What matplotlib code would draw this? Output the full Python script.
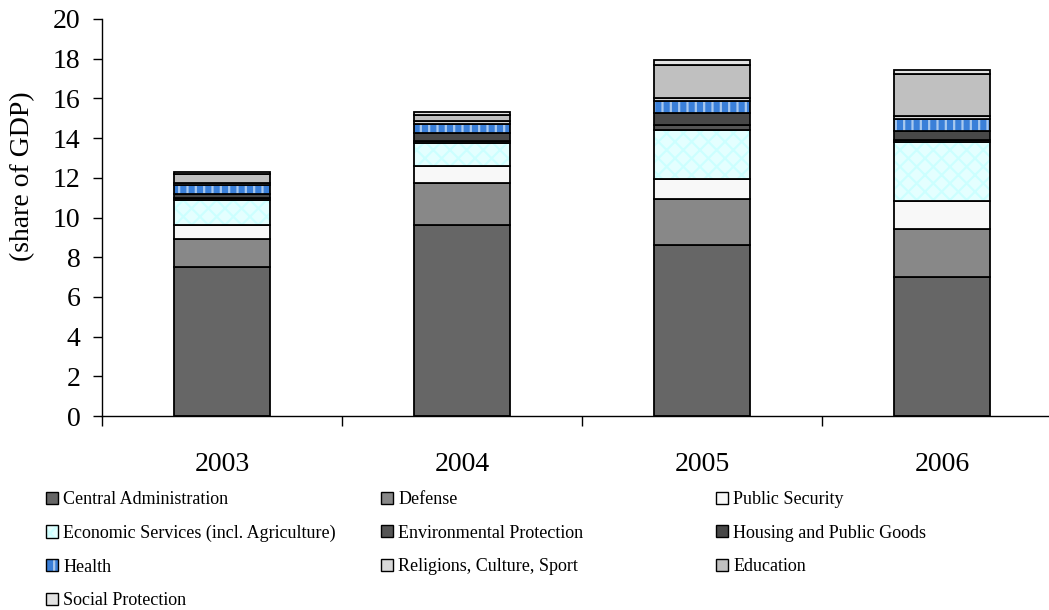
import matplotlib
matplotlib.use("Agg")
import matplotlib.pyplot as plt
from matplotlib.patches import Patch
import numpy as np

plt.rcParams['font.family'] = ['Liberation Serif', 'DejaVu Serif']
plt.rcParams['hatch.linewidth'] = 1.6

years = ['2003', '2004', '2005', '2006']

# shares of GDP, bottom to top
central = [7.5, 9.6, 8.6, 7.0]
defense = [1.4, 2.15, 2.35, 2.4]
public_security = [0.7, 0.85, 1.0, 1.45]
economic = [1.3, 1.15, 2.45, 2.95]
environment = [0.08, 0.08, 0.24, 0.1]
housing = [0.18, 0.45, 0.6, 0.47]
health = [0.5, 0.44, 0.65, 0.6]
religion = [0.07, 0.14, 0.13, 0.16]
education = [0.44, 0.3, 1.64, 2.12]
social = [0.1, 0.16, 0.27, 0.2]

labels = ['Central Administration', 'Defense', 'Public Security',
          'Economic Services (incl. Agriculture)', 'Environmental Protection',
          'Housing and Public Goods', 'Health', 'Religions, Culture, Sport',
          'Education', 'Social Protection']
series = [central, defense, public_security, economic, environment,
          housing, health, religion, education, social]
colors = ['#666666', '#888888', '#f8f8f8', '#e4ffff', '#555555',
          '#484848', '#3a7fd8', '#d8d8d8', '#c0c0c0', '#e2e2e2']
# hatch overlays: (hatch, hatch colour) or None
hatches = [None, None, None, ('xx', '#ccffff'), None, None,
           ('||', '#a8c8ee'), None, None, None]

fig = plt.figure(figsize=(10.49, 6.10), dpi=100)
ax = fig.add_axes([102 / 1049, 1 - 416 / 610, 960 / 1049, 397 / 610])

x = np.arange(len(years))
w = 0.4
bottom = np.zeros(len(years))
handles = []
for vals, lab, col, h in zip(series, labels, colors, hatches):
    vals = np.array(vals)
    if h is None:
        ax.bar(x, vals, w, bottom=bottom, color=col, edgecolor='black', linewidth=1.3)
        handles.append(Patch(facecolor=col, edgecolor='black', linewidth=1.0))
    else:
        ax.bar(x, vals, w, bottom=bottom, color=col, edgecolor=h[1], hatch=h[0], linewidth=0)
        ax.bar(x, vals, w, bottom=bottom, fill=False, edgecolor='black', linewidth=1.3)
        handles.append((Patch(facecolor=col, edgecolor=h[1], hatch=h[0], linewidth=0),
                        Patch(fill=False, edgecolor='black', linewidth=1.0)))
    bottom += vals

ax.set_ylim(0, 20)
ax.set_xlim(-0.5, 3.5)
ax.set_yticks(np.arange(0, 21, 2))
ax.tick_params(axis='y', direction='out', length=6.5, width=1, pad=9, labelsize=20)
ax.set_xticks(np.arange(-0.5, 4, 1))
ax.set_xticklabels([])
ax.set_xticks(x, minor=True)
ax.set_xticklabels(years, minor=True)
ax.tick_params(axis='x', which='major', direction='out', length=7, width=1)
ax.tick_params(axis='x', which='minor', length=0, pad=26, labelsize=20)
for s in ['top', 'right']:
    ax.spines[s].set_visible(False)
ax.spines['left'].set_linewidth(1)
ax.spines['bottom'].set_linewidth(1)

ax.set_ylabel('(share of GDP)', fontsize=20)
ax.yaxis.set_label_coords(-0.07, 0.605)

# legend laid out in three equal columns, filled row by row
col_x = [46, 381, 716]
for c in range(3):
    idx = list(range(c, len(labels), 3))
    fig.legend([handles[i] for i in idx], [labels[i] for i in idx],
               loc='upper left', bbox_to_anchor=(col_x[c] / 1049, 1 - 491 / 610),
               frameon=False, fontsize=13, handlelength=0.65, handleheight=0.65,
               handletextpad=0.3, labelspacing=0.92, borderpad=0, borderaxespad=0)

fig.savefig('out.png', dpi=100)
